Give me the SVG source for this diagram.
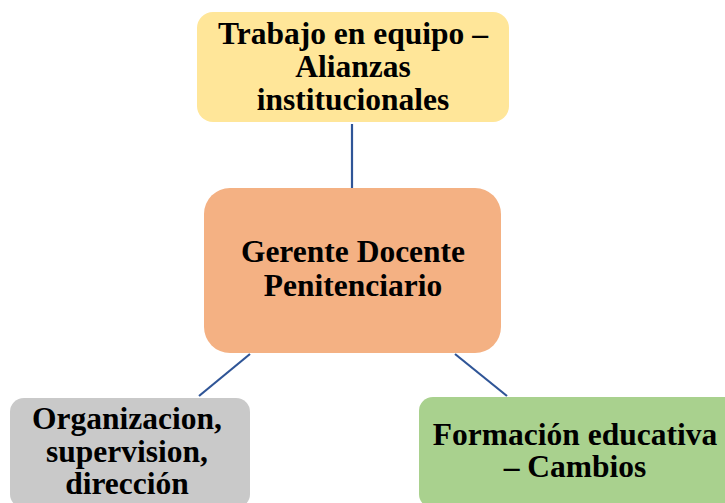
<svg xmlns="http://www.w3.org/2000/svg" width="725" height="503" viewBox="0 0 725 503">
<style>
.t{font-family:"Liberation Serif","Times New Roman",serif;font-weight:bold;font-size:31.5px;fill:#000;text-anchor:middle}
.c{stroke:#2F5597;stroke-width:2.2;fill:none}
</style>
<rect width="725" height="503" fill="#fff"/>
<g id="connectors">
<line class="c" x1="352" y1="124" x2="352" y2="188"/>
<line class="c" x1="250" y1="354" x2="199" y2="396"/>
<line class="c" x1="455" y1="354" x2="507" y2="396"/>
</g>
<g id="top">
<rect x="197" y="12" width="312" height="110" rx="16" fill="#FFE699"/>
<text class="t" x="353" y="44">Trabajo en equipo –</text>
<text class="t" x="353" y="77">Alianzas</text>
<text class="t" x="353" y="110">institucionales</text>
</g>
<g id="center">
<rect x="204" y="188" width="297" height="165" rx="26" fill="#F4B183"/>
<text class="t" x="353" y="262">Gerente Docente</text>
<text class="t" x="353" y="296">Penitenciario</text>
</g>
<g id="left">
<rect x="10" y="398" width="240" height="110" rx="14" fill="#C9C9C9"/>
<text class="t" x="127" y="429">Organizacion,</text>
<text class="t" x="127" y="462">supervision,</text>
<text class="t" x="127" y="494">dirección</text>
</g>
<g id="right">
<rect x="419" y="397" width="320" height="111" rx="14" fill="#A9D18E"/>
<text class="t" x="575" y="445">Formación educativa</text>
<text class="t" x="575" y="477">– Cambios</text>
</g>
</svg>
